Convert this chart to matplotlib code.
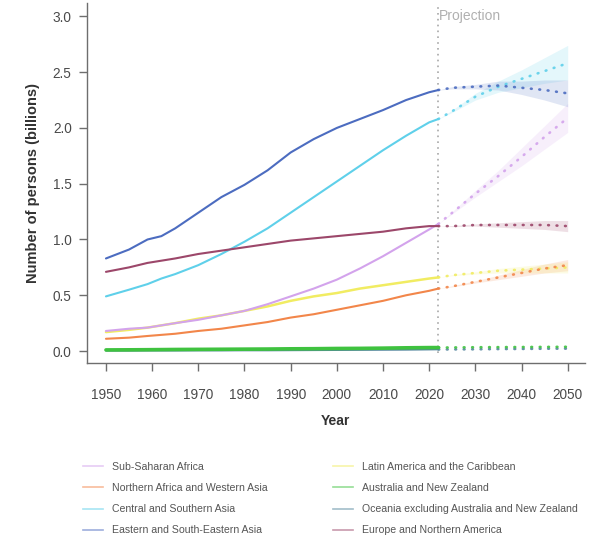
import matplotlib
matplotlib.use("Agg")
import matplotlib.pyplot as plt
from matplotlib.lines import Line2D

plt.rcParams["font.family"] = ["Liberation Sans", "DejaVu Sans"]

# Estimates (billions) and projections by SDG region
hist_years = [1950, 1955, 1959, 1962, 1965, 1970, 1975, 1980, 1985, 1990,
              1995, 2000, 2005, 2010, 2015, 2020, 2022]
proj_years = [2022, 2025, 2030, 2035, 2040, 2045, 2050]

regions = [
    "Sub-Saharan Africa",
    "Northern Africa and Western Asia",
    "Central and Southern Asia",
    "Eastern and South-Eastern Asia",
    "Latin America and the Caribbean",
    "Australia and New Zealand",
    "Oceania excluding Australia and New Zealand",
    "Europe and Northern America",
]
colors = ["#d3a3ec", "#f2864a", "#5fd0ea", "#4c6cc0",
          "#f1ec62", "#3fc23f", "#55879e", "#9c476a"]

ssa_hist = [0.18, 0.20, 0.21, 0.23, 0.25, 0.28, 0.32, 0.36, 0.42, 0.49,
            0.56, 0.64, 0.74, 0.85, 0.97, 1.09, 1.14]
nawa_hist = [0.11, 0.12, 0.135, 0.145, 0.155, 0.18, 0.20, 0.23, 0.26, 0.30,
             0.33, 0.37, 0.41, 0.45, 0.50, 0.54, 0.56]
csa_hist = [0.49, 0.55, 0.60, 0.65, 0.69, 0.77, 0.87, 0.98, 1.10, 1.24,
            1.38, 1.52, 1.66, 1.80, 1.93, 2.05, 2.08]
esea_hist = [0.83, 0.91, 1.00, 1.03, 1.10, 1.24, 1.38, 1.49, 1.62, 1.78,
             1.90, 2.00, 2.08, 2.16, 2.25, 2.32, 2.34]
lac_hist = [0.17, 0.19, 0.21, 0.23, 0.25, 0.29, 0.32, 0.36, 0.40, 0.45,
            0.49, 0.52, 0.56, 0.59, 0.62, 0.65, 0.66]
anz_hist = [0.010, 0.011, 0.012, 0.013, 0.014, 0.015, 0.016, 0.017, 0.018,
            0.020, 0.021, 0.023, 0.024, 0.026, 0.029, 0.031, 0.031]
oce_hist = [0.002, 0.002, 0.003, 0.003, 0.003, 0.004, 0.004, 0.005, 0.005,
            0.006, 0.007, 0.008, 0.009, 0.010, 0.011, 0.013, 0.014]
ena_hist = [0.71, 0.75, 0.79, 0.81, 0.83, 0.87, 0.90, 0.93, 0.96, 0.99,
            1.01, 1.03, 1.05, 1.07, 1.10, 1.12, 1.12]

ssa_proj = [1.14, 1.24, 1.41, 1.57, 1.74, 1.92, 2.09]
nawa_proj = [0.56, 0.58, 0.62, 0.66, 0.70, 0.74, 0.77]
csa_proj = [2.08, 2.15, 2.28, 2.37, 2.44, 2.51, 2.58]
esea_proj = [2.34, 2.36, 2.37, 2.38, 2.36, 2.34, 2.31]
lac_proj = [0.66, 0.68, 0.70, 0.72, 0.73, 0.74, 0.75]
anz_proj = [0.031, 0.032, 0.034, 0.035, 0.036, 0.037, 0.038]
oce_proj = [0.014, 0.015, 0.016, 0.018, 0.019, 0.021, 0.022]
ena_proj = [1.12, 1.12, 1.13, 1.13, 1.13, 1.13, 1.12]

# 95% prediction intervals
ssa_lo = [1.14, 1.23, 1.38, 1.52, 1.66, 1.81, 1.96]
ssa_hi = [1.14, 1.25, 1.44, 1.62, 1.82, 2.02, 2.22]
nawa_lo = [0.56, 0.575, 0.61, 0.64, 0.67, 0.70, 0.72]
nawa_hi = [0.56, 0.585, 0.63, 0.68, 0.73, 0.78, 0.82]
csa_lo = [2.08, 2.14, 2.25, 2.32, 2.36, 2.40, 2.43]
csa_hi = [2.08, 2.16, 2.31, 2.42, 2.52, 2.63, 2.74]
esea_lo = [2.34, 2.35, 2.35, 2.34, 2.30, 2.25, 2.19]
esea_hi = [2.34, 2.37, 2.39, 2.42, 2.42, 2.43, 2.43]
lac_lo = [0.66, 0.675, 0.69, 0.70, 0.70, 0.70, 0.70]
lac_hi = [0.66, 0.685, 0.71, 0.74, 0.76, 0.78, 0.80]
ena_lo = [1.12, 1.115, 1.12, 1.11, 1.10, 1.09, 1.07]
ena_hi = [1.12, 1.125, 1.14, 1.15, 1.16, 1.17, 1.17]

hist = [ssa_hist, nawa_hist, csa_hist, esea_hist, lac_hist, anz_hist,
        oce_hist, ena_hist]
proj = [ssa_proj, nawa_proj, csa_proj, esea_proj, lac_proj, anz_proj,
        oce_proj, ena_proj]
bands = {0: (ssa_lo, ssa_hi), 1: (nawa_lo, nawa_hi), 2: (csa_lo, csa_hi),
         3: (esea_lo, esea_hi), 4: (lac_lo, lac_hi), 7: (ena_lo, ena_hi)}

x_ticks = [1950, 1960, 1970, 1980, 1990, 2000, 2010, 2020, 2030, 2040, 2050]
y_ticks = [0.0, 0.5, 1.0, 1.5, 2.0, 2.5, 3.0]
projection_start = 2022

fig = plt.figure(figsize=(6.01, 5.36), dpi=100)
ax = fig.add_axes([0.1448, 0.3228, 0.8282, 0.6716])

grey = "#6e6e6e"

# prediction intervals
for i, (lo, hi) in bands.items():
    ax.fill_between(proj_years, lo, hi, color=colors[i], alpha=0.17,
                    linewidth=0, zorder=1)

# estimates (solid) and projections (dotted)
widths = [1.5, 1.5, 1.5, 1.5, 1.8, 2.6, 1.2, 1.5]
for i in [4, 0, 1, 2, 7, 3, 6, 5]:
    ax.plot(hist_years, hist[i], color=colors[i], lw=widths[i],
            solid_capstyle="round", zorder=3)
    ax.plot(proj_years, proj[i], color=colors[i], lw=1.9, alpha=0.9,
            linestyle=(0, (0.3, 2.9)), dash_capstyle="round", zorder=3)

# start of projection period
ax.plot([projection_start, projection_start], [-0.02, 3.08],
        color="#a8a8a8", lw=1.2, linestyle=(0, (1, 2.5)), zorder=2)
ax.text(projection_start + 0.2, 3.0, "Projection", color="#b0b0b0",
        fontsize=10, ha="left", va="center")

ax.set_xlim(1945.9, 2053.7)
ax.set_ylim(-0.107, 3.12)
ax.set_xticks(x_ticks)
ax.set_yticks(y_ticks)
ax.set_yticklabels([f"{v:.1f}" for v in y_ticks])
for side in ["top", "right"]:
    ax.spines[side].set_visible(False)
for side in ["left", "bottom"]:
    ax.spines[side].set_color(grey)
    ax.spines[side].set_linewidth(1.0)
ax.tick_params(axis="both", colors=grey, labelcolor="#4a4a4a",
               labelsize=9.8, length=6, width=1.0)
ax.tick_params(axis="x", pad=12)
ax.tick_params(axis="y", pad=5)

ax.set_xlabel("Year", fontsize=10, fontweight="bold", color="#333333",
              labelpad=9)
ax.set_ylabel("Number of persons (billions)", fontsize=10.5,
              fontweight="bold", color="#333333", labelpad=9)

handles = [Line2D([0], [0], color=c, lw=1.2, alpha=0.55) for c in colors]
fig.legend(handles, regions,
           loc="upper left", bbox_to_anchor=(0.138, 0.138), ncol=2,
           frameon=False, fontsize=7.6, labelcolor="#555555",
           handlelength=1.9, handletextpad=0.85, columnspacing=6.2,
           labelspacing=1.05, borderaxespad=0, borderpad=0)

fig.savefig("out.png", dpi=100)
